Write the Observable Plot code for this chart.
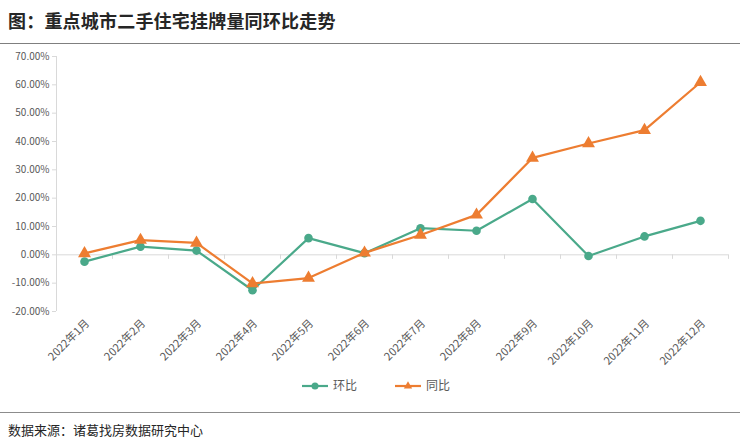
<!DOCTYPE html>
<html><head><meta charset="utf-8">
<script src="https://cdn.jsdelivr.net/npm/d3@7"></script>
<script src="https://cdn.jsdelivr.net/npm/@observablehq/plot@0.6"></script>
<style>
body{margin:0;background:#fff;font-family:"Noto Sans CJK SC","Noto Sans",sans-serif;width:740px;height:440px;overflow:hidden;position:relative}
#title{position:absolute;left:8px;top:7px;font-size:18px;font-weight:bold;color:#262626;letter-spacing:0.2px}
#topline{position:absolute;left:0;top:43px;width:740px;height:0;border-top:1.5px solid #7f7f7f}
#chart{position:absolute;left:0;top:45px}
#legend{position:absolute;left:0;top:376px;width:740px;height:20px}
#botline{position:absolute;left:0;top:412px;width:740px;border-top:1.5px solid #8c8c8c}
#caption{position:absolute;left:8px;top:420px;font-size:13px;color:#262626}
svg g[aria-label="y-axis tick"] path{stroke:#d9d9d9}
</style></head>
<body>
<div id="title">图：重点城市二手住宅挂牌量同环比走势</div>
<div id="topline"></div>
<div id="chart"></div>
<div id="legend"></div>
<div id="botline"></div>
<div id="caption">数据来源：诸葛找房数据研究中心</div>
<script>
const months = ["2022年1月","2022年2月","2022年3月","2022年4月","2022年5月","2022年6月","2022年7月","2022年8月","2022年9月","2022年10月","2022年11月","2022年12月"];
const huanbi = [-2.4, 2.9, 1.5, -12.5, 5.9, 0.6, 9.4, 8.5, 19.7, -0.4, 6.5, 12.0];
const tongbi = [0.5, 5.2, 4.2, -10.1, -8.2, 0.7, 7.0, 14.1, 34.2, 39.3, 44.0, 60.9];
const yTicks = [-20, -10, 0, 10, 20, 30, 40, 50, 60, 70];
const seriesNames = ["环比", "同比"];
const colors = ["#4aa98a", "#ed7d31"];

const hb = months.map((m, i) => ({m, v: huanbi[i]}));
const tb = months.map((m, i) => ({m, v: tongbi[i]}));

const chart = Plot.plot({
  width: 740, height: 330,
  marginLeft: 56, marginRight: 12, marginTop: 11, marginBottom: 64,
  style: {fontFamily: '"Noto Sans CJK SC","Noto Sans",sans-serif', fontSize: "10px", color: "#595959", background: "transparent"},
  x: {type: "point", domain: months, padding: 0.5, label: null},
  y: {domain: [-20, 70], ticks: yTicks, label: null},
  marks: [
    Plot.ruleY([0], {stroke: "#d9d9d9", strokeWidth: 1}),
    Plot.ruleX([months[0]], {y1: -20, y2: 70, dx: -28, stroke: "#d9d9d9"}),
    Plot.ruleX(months, {y1: 0, y2: -1.6, dx: 28, stroke: "#d9d9d9"}),
    Plot.axisY({ticks: yTicks, tickSize: 4, tickPadding: 3, tickFormat: d => d.toFixed(2) + "%", fill: "#595959"}),
    Plot.axisX({tickSize: 0, tickPadding: 10, tickRotate: -45, fill: "#595959", fontSize: 11, dx: 3}),
    Plot.line(hb, {x: "m", y: "v", stroke: colors[0], strokeWidth: 2.2}),
    Plot.dot(hb, {x: "m", y: "v", fill: colors[0], r: 4.3, symbol: "circle"}),
    Plot.line(tb, {x: "m", y: "v", stroke: colors[1], strokeWidth: 2.2}),
    Plot.dot(tb, {x: "m", y: "v", fill: colors[1], r: 4.8, symbol: "triangle"})
  ]
});
document.getElementById("chart").appendChild(chart);

// legend
const lg = d3.select("#legend").append("svg").attr("width", 740).attr("height", 20);
const lx = [302, 395];
seriesNames.forEach((n, i) => {
  const g = lg.append("g").attr("transform", `translate(${lx[i]},10)`);
  g.append("line").attr("x1", 0).attr("x2", 26).attr("stroke", colors[i]).attr("stroke-width", 2.2);
  if (i === 0) g.append("circle").attr("cx", 13).attr("r", 3.5).attr("fill", colors[i]);
  else g.append("path").attr("d", d3.symbol(d3.symbolTriangle, 30)()).attr("transform", "translate(13,0)").attr("fill", colors[i]);
  g.append("text").attr("x", 31).attr("dy", "0.35em").attr("font-size", 12).attr("fill", "#595959")
    .attr("font-family", '"Noto Sans CJK SC",sans-serif').text(n);
});
</script>
</body></html>
